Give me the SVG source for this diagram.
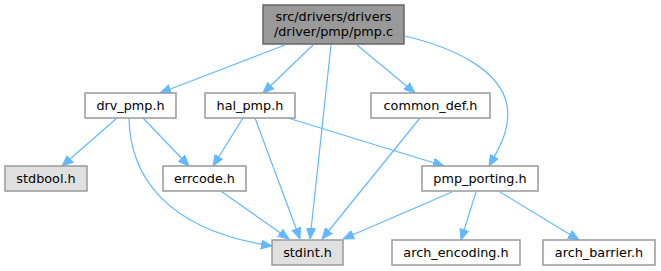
<svg xmlns="http://www.w3.org/2000/svg" width="661" height="271" viewBox="0 0 661 271">
<style>
.n rect{fill:#ffffff;stroke:#999999;stroke-width:1.5}
.n.g rect{fill:#e0e0e0}
.n.r rect{fill:#999999;stroke:#666666}
.n text{font-family:"DejaVu Sans",sans-serif;font-size:12.8px;fill:#000000;text-anchor:middle}
.e path{fill:none;stroke:#63b8ff;stroke-width:1.2}
</style>
<defs>
<marker id="ah" viewBox="0 0 11 10" refX="11" refY="5" markerWidth="11" markerHeight="10" markerUnits="userSpaceOnUse" orient="auto">
<path d="M0,0.5 L11,5 L0,9.5 z" fill="#63b8ff" stroke="#63b8ff" stroke-width="1"/>
</marker>
</defs>
<rect width="661" height="271" fill="#ffffff"/>
<g class="e" id="edges">
<path marker-end="url(#ah)" d="M285,45 L160,93"/>
<path marker-end="url(#ah)" d="M313,45 L263,93"/>
<path marker-end="url(#ah)" d="M331,45 L310,239"/>
<path marker-end="url(#ah)" d="M357,45 L415,93"/>
<path marker-end="url(#ah)" d="M405,36 C455,48 500,70 507,105 C511,130 498,150 489,166"/>
<path marker-end="url(#ah)" d="M117,118 L62,166"/>
<path marker-end="url(#ah)" d="M143,118 L189,166"/>
<path marker-end="url(#ah)" d="M129,118 C130,175 165,230 272,246"/>
<path marker-end="url(#ah)" d="M243,118 L213,166"/>
<path marker-end="url(#ah)" d="M255,118 L300,239"/>
<path marker-end="url(#ah)" d="M288,118 L444,166"/>
<path marker-end="url(#ah)" d="M420,118 L322,239"/>
<path marker-end="url(#ah)" d="M222,192 L289,239"/>
<path marker-end="url(#ah)" d="M452,192 L343,239"/>
<path marker-end="url(#ah)" d="M476,192 L461,240"/>
<path marker-end="url(#ah)" d="M500,192 L579,240"/>
</g>
<g class="n r" id="root"><rect x="263" y="5" width="141" height="39"/><text x="333.5" y="21">src/drivers/drivers</text><text x="333.5" y="36">/driver/pmp/pmp.c</text></g>
<g class="n" id="drv_pmp"><rect x="85" y="93" width="91" height="25"/><text x="130.5" y="110">drv_pmp.h</text></g>
<g class="n" id="hal_pmp"><rect x="205" y="93" width="90" height="25"/><text x="250" y="110">hal_pmp.h</text></g>
<g class="n" id="common_def"><rect x="371" y="93" width="119" height="25"/><text x="430.5" y="110">common_def.h</text></g>
<g class="n g" id="stdbool"><rect x="5" y="166" width="82" height="25"/><text x="46" y="183">stdbool.h</text></g>
<g class="n" id="errcode"><rect x="163" y="166" width="83" height="25"/><text x="204.5" y="183">errcode.h</text></g>
<g class="n" id="pmp_porting"><rect x="422" y="166" width="116" height="25"/><text x="480" y="183">pmp_porting.h</text></g>
<g class="n g" id="stdint"><rect x="272" y="240" width="71" height="25"/><text x="307.5" y="257">stdint.h</text></g>
<g class="n" id="arch_encoding"><rect x="392" y="240" width="128" height="25"/><text x="456" y="257">arch_encoding.h</text></g>
<g class="n" id="arch_barrier"><rect x="543" y="240" width="112" height="25"/><text x="599" y="257">arch_barrier.h</text></g>
</svg>
